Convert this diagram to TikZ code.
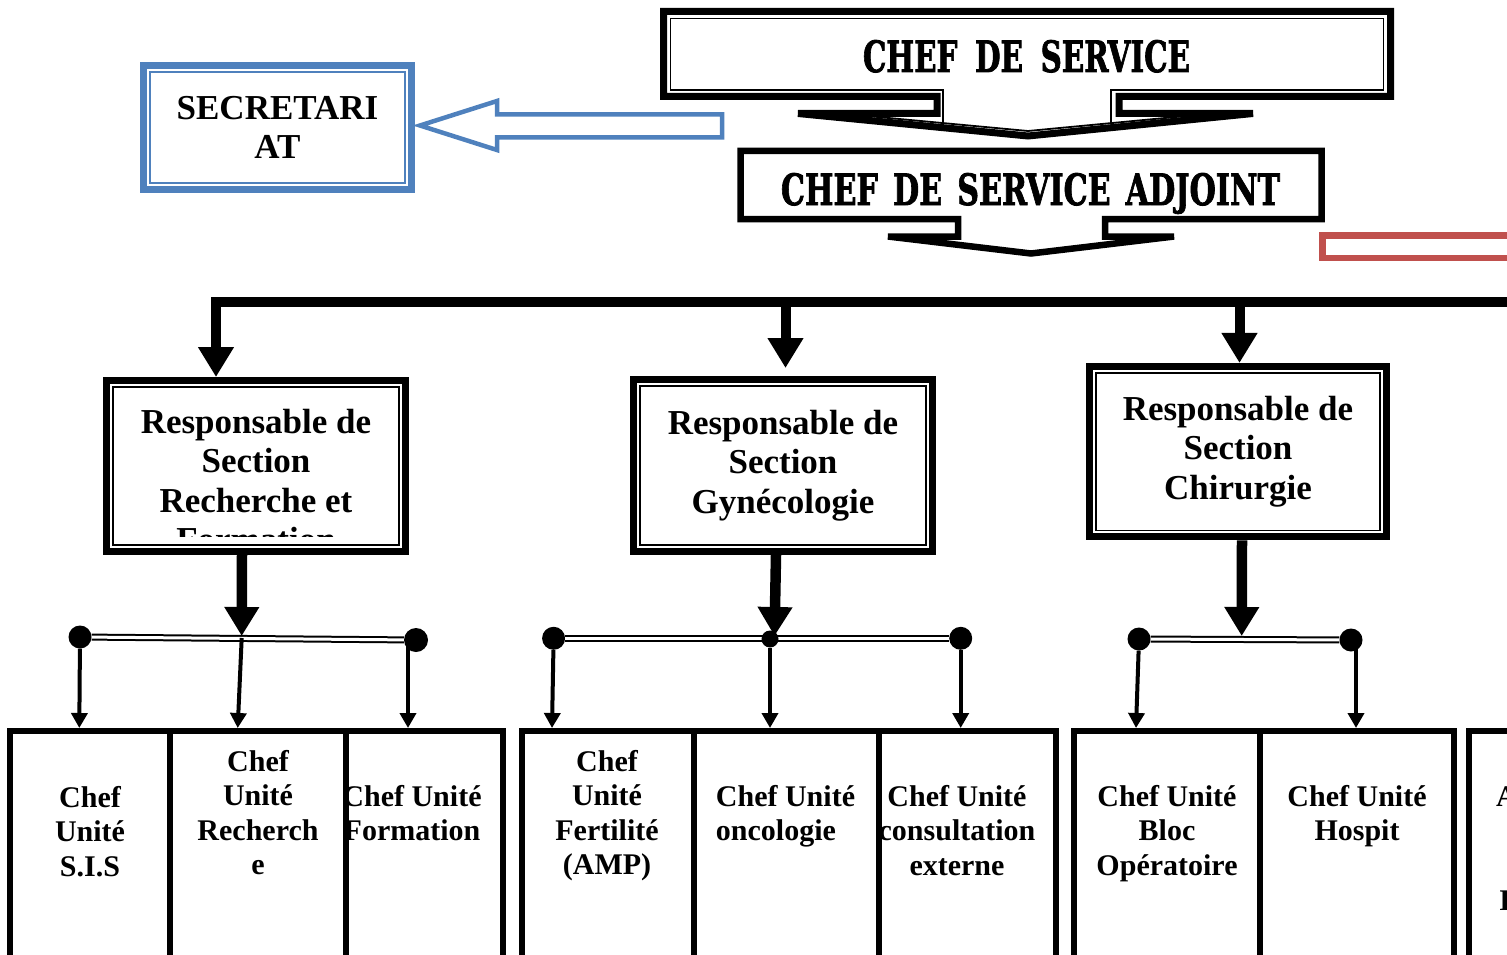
\documentclass[tikz,border=0pt]{standalone}
\usepackage{fontspec}
\setmainfont{Liberation Serif}
\newfontfamily\TitleFam{DejaVu Serif}[BoldFeatures={FakeBold=2}]
\usepackage{graphicx}
\usetikzlibrary{arrows.meta,calc}
\definecolor{wblue}{HTML}{4F81BD}
\definecolor{wred}{HTML}{C0504D}
\newcommand\SecFnt{\fontsize{35}{39.5}\selectfont\bfseries}
\newcommand\UnitFnt{\fontsize{30}{34.5}\selectfont\bfseries}
\begin{document}
\begin{tikzpicture}[x=1pt,y=-1pt,
  inframe/.style={path picture={\draw[#1] ([shift={(6.5,6.5)}]path picture bounding box.north west) rectangle ([shift={(-6.5,-6.5)}]path picture bounding box.south east);}},
  secbox/.style={draw=black, line width=7pt, inner sep=0pt, align=center, font=\SecFnt, inframe={black,line width=1.6pt}},
  sectext/.style={inner sep=0pt, align=center, font=\SecFnt},
  unitbox/.style={draw=black, line width=6pt, inner sep=0pt, minimum height=269pt},
  unittext/.style={inner sep=0pt, align=center, font=\UnitFnt, anchor=north},
  jdot/.style={circle, fill=black, inner sep=0pt, minimum size=23pt},
  bigarr/.style={line width=10pt, line join=miter, -{Triangle[width=34pt,length=30pt]}},
  midarr/.style={line width=10.5pt, -{Triangle[width=33pt,length=29pt]}},
  smallarr/.style={line width=4pt, -{Triangle[width=16pt,length=15pt]}},
  dbl/.style={draw=black, double=white, line width=2pt, double distance=3pt},
  calloutline/.style={draw=black, line join=miter, miter limit=3},
]
\useasboundingbox (0,0) rectangle (1507,955);
\clip (0,0) rectangle (1507,955);

% ---- CHEF DE SERVICE callout
\draw[calloutline, line width=7pt] (663.5,11.5) -- (1390.5,11.5) -- (1390.5,96.5) -- (1119,96.5) -- (1119,113.5) -- (1253,113.5) -- (1028,136) -- (798,113.5) -- (937,113.5) -- (937,96.5) -- (663.5,96.5) -- cycle;
\draw[line width=1.8pt, line join=miter] (943,124) -- (943,90) -- (670.5,90) -- (670.5,18.5) -- (1383.5,18.5) -- (1383.5,90) -- (1111,90) -- (1111,123);
\draw[line width=1.8pt] (846,114) -- (1028,131) -- (1207,114);
\node[anchor=base, inner sep=0pt] (cds) at (1026.5,72) {\resizebox{327pt}{32pt}{\TitleFam\bfseries CHEF\hspace{0.6em}DE\hspace{0.6em}SERVICE}};

% ---- CHEF DE SERVICE ADJOINT callout
\draw[calloutline, line width=6.5pt] (740.5,151) -- (1321.5,151) -- (1321.5,219) -- (1105,219) -- (1105,236.5) -- (1174,236.5) -- (1031,253.5) -- (888,236.5) -- (958,236.5) -- (958,219) -- (740.5,219) -- cycle;
\node[anchor=base, inner sep=0pt] (cdsa) at (1030.5,205) {\resizebox{499pt}{32pt}{\TitleFam\bfseries CHEF\hspace{0.5em}DE\hspace{0.5em}SERVICE\hspace{0.5em}ADJOINT}};

% ---- Secretariat
\node[draw=wblue, line width=7pt, inner sep=0pt, minimum width=268pt, minimum height=123pt, align=center, font=\SecFnt, inframe={wblue,line width=2pt}] (sec) at (277.5,127.5) {SECRETARI\\AT};
\coordinate (btip) at (420,125.5);
\draw[wblue, line width=4.5pt, line join=miter] (722,114.5) -- (497,114.5) -- (497,101) -- (btip) -- (497,150) -- (497,137.5) -- (722,137.5) -- cycle;

% ---- red box
\draw[wred, line width=6.5pt] (1322.5,235.3) rectangle (1560,258);

% ---- section boxes
\node[secbox, minimum width=299pt, minimum height=171pt] (s1) at (256,466) {};
\begin{scope}
\clip (110,385) rectangle (402,536);
\node[sectext, anchor=north] (s1t) at (256,409) {Responsable de\\Section\\Recherche et\\Formation};
\end{scope}
\node[secbox, minimum width=299pt, minimum height=172pt] (s2) at (783,465.5) {Responsable de\\Section\\Gynécologie};
\node[secbox, minimum width=297pt, minimum height=170.5pt] (s3) at (1238,451.7) {Responsable de\\Section\\Chirurgie};

% ---- main bar
\coordinate (barR) at (1530,301.5);
\coordinate (barL) at (216,301.5);
\coordinate (b2) at (785.5,301.5);
\coordinate (b3) at (1239.5,301.5);
\draw[bigarr] (barR) -- (barL) -- (barL |- s1.north);
\draw[bigarr, shorten >=8pt] (b2) -- (b2 |- s2.north);
\draw[bigarr] (b3) -- (b3 |- s3.north);

% ---- unit texts
\node[unittext] (tu1) at (90,786) {Chef\\Unité\\S.I.S};
\node[unittext] (tu2) at (258,750) {Chef\\Unité\\Recherch\\e};
\node[unittext] (tu3) at (412,785) {Chef Unité\\Formation};
\node[unittext] (tu4) at (607,750) {Chef\\Unité\\Fertilité\\(AMP)};
\node[unittext, align=left] (tu5) at (785.5,785) {Chef Unité\\oncologie};
\node[unittext] (tu6) at (957,785) {Chef Unité\\consultation\\externe};
\node[unittext] (tu7) at (1167,785) {Chef Unité\\Bloc\\Opératoire};
\node[unittext] (tu8) at (1357,785) {Chef Unité\\Hospit};
\node[inner sep=0pt, font=\UnitFnt, anchor=base west] (tu9a) at (1496,806) {A};
\node[inner sep=0pt, font=\UnitFnt, anchor=base west] (tu9b) at (1499,910) {I};

% ---- unit boxes
\node[unitbox, minimum width=160pt] (u1) at (90,865.5) {};
\node[unitbox, minimum width=175.5pt] (u2) at (257.75,865.5) {};
\node[unitbox, minimum width=157pt] (u3) at (424,865.5) {};
\node[unitbox, minimum width=172.5pt] (u4) at (607.75,865.5) {};
\node[unitbox, minimum width=184.5pt] (u5) at (786.25,865.5) {};
\node[unitbox, minimum width=177.5pt] (u6) at (967.25,865.5) {};
\node[unitbox, minimum width=186pt] (u7) at (1167,865.5) {};
\node[unitbox, minimum width=194pt] (u8) at (1357,865.5) {};
\node[unitbox, minimum width=131.5pt] (u9) at (1534.25,865.5) {};

% ---- junction bars
\node[jdot] (d11) at (80,637) {};
\node[jdot, minimum size=24pt] (d13) at (416,640) {};
\coordinate (j1) at (241.7,638);
\draw[dbl] (d11) -- (d13);
\node[jdot] (d21) at (553.6,638.3) {};
\node[jdot] (d23) at (960.7,638.3) {};
\draw[dbl] (d21) -- (d23);
\node[jdot, minimum size=17pt] (d22) at (770,639) {};
\node[jdot] (d31) at (1139,639) {};
\node[jdot] (d32) at (1351,640) {};
\draw[dbl] (d31) -- (d32);

% ---- section to junction arrows
\coordinate (m1) at (241.7,636);
\coordinate (m2) at (774.5,636);
\coordinate (m3) at (1241.7,636);
\draw[midarr] ([xshift=-14pt]s1.south) -- (m1);
\draw[midarr] ([xshift=-7pt]s2.south) -- (m2);
\draw[midarr] ([xshift=4pt]s3.south) -- (m3);

% ---- junction to unit arrows
\coordinate (e11) at (79.3,728);
\coordinate (e12) at (237.7,728);
\coordinate (e13) at (408,728);
\coordinate (e21) at (552,728);
\coordinate (e22) at (770,728);
\coordinate (e23) at (960.7,728);
\coordinate (e31) at (1136,728);
\coordinate (e32) at (1356,728);
\draw[smallarr] (d11) -- (e11);
\draw[smallarr] (j1) -- (e12);
\draw[smallarr] (e13 |- d13) -- (e13);
\draw[smallarr] (d21) -- (e21);
\draw[smallarr] (d22) -- (e22);
\draw[smallarr] (d23) -- (e23);
\draw[smallarr] (d31) -- (e31);
\draw[smallarr] (e32 |- d32) -- (e32);
\end{tikzpicture}
\end{document}
